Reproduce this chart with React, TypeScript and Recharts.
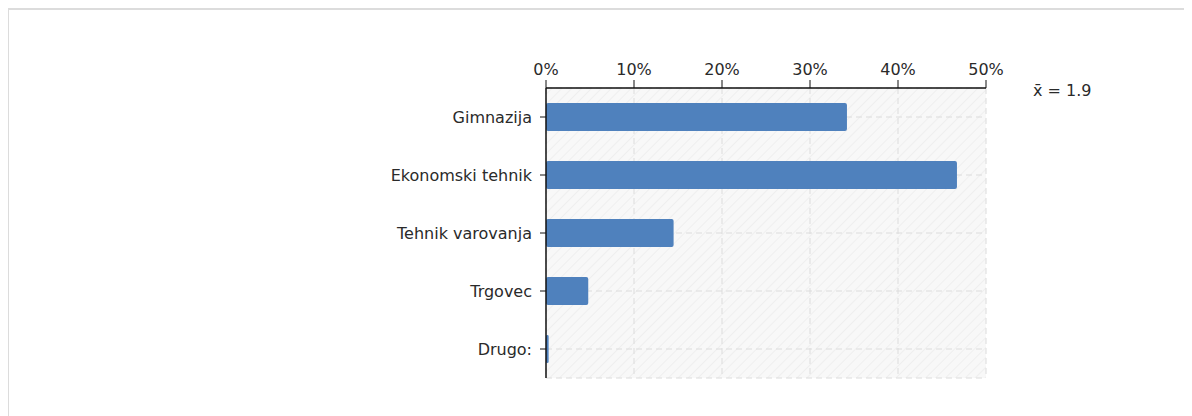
import React from "react";
import { BarChart, Bar, XAxis, YAxis, CartesianGrid } from "recharts";

// Survey answers (share of respondents, %)
const categories = ["Gimnazija", "Ekonomski tehnik", "Tehnik varovanja", "Trgovec", "Drugo:"];
const shares = [34.2, 46.7, 14.5, 4.8, 0.3];
const xTicks = [0, 10, 20, 30, 40, 50];
const meanLabel = "x\u0304 = 1.9";

const FONT = "'DejaVu Sans', Verdana, sans-serif";
const TEXT = "#2a2a2a";

export default function App() {
  const chartData = categories.map((name, i) => ({ name, value: shares[i] }));

  return (
    <div style={{ position: "relative", width: 1184, height: 408, fontFamily: FONT }}>
      {/* outer frame, only top and left edges are visible in the window */}
      <div
        style={{
          position: "absolute",
          left: -1,
          top: 0,
          width: 1300,
          height: 500,
          borderTop: "2px solid #dcdcdc",
          borderLeft: "2px solid #dcdcdc",
          boxSizing: "border-box",
        }}
      />
      <BarChart
        width={1184}
        height={400}
        data={chartData}
        layout="vertical"
        margin={{ top: 50, right: 206, left: 338, bottom: 30 }}
        barCategoryGap={15}
      >
        <defs>
          <pattern id="hatch" width="7" height="7" patternUnits="userSpaceOnUse" patternTransform="rotate(45)">
            <rect width="7" height="7" fill="#f8f8f8" />
            <line x1="0" y1="0" x2="0" y2="7" stroke="#ececec" strokeWidth="1.5" />
          </pattern>
        </defs>
        <CartesianGrid stroke="#dcdcdc" strokeDasharray="6 4" fill="url(#hatch)" fillOpacity={1} />
        <XAxis
          type="number"
          orientation="top"
          domain={[0, 50]}
          ticks={xTicks}
          interval={0}
          height={30}
          tickFormatter={(v: number) => `${v}%`}
          axisLine={{ stroke: "#111", strokeWidth: 1.5 }}
          tickLine={{ stroke: "#111" }}
          tickSize={8}
          tickMargin={5}
          tick={{ fill: TEXT, fontSize: 16, fontFamily: FONT }}
        />
        <XAxis
          xAxisId="bottom"
          type="number"
          orientation="bottom"
          domain={[0, 50]}
          height={0}
          tick={false}
          tickLine={false}
          axisLine={{ stroke: "#dcdcdc", strokeDasharray: "6 4" }}
        />
        <YAxis
          type="category"
          dataKey="name"
          width={200}
          interval={0}
          axisLine={{ stroke: "#111", strokeWidth: 1.5 }}
          tickLine={{ stroke: "#111" }}
          tickSize={6}
          tickMargin={8}
          tick={{ fill: TEXT, fontSize: 16, fontFamily: FONT }}
        />
        <Bar dataKey="value" fill="#4f81bd" barSize={28} radius={2} isAnimationActive={false} />
      </BarChart>
      <div
        style={{
          position: "absolute",
          left: 1025,
          top: 73,
          fontSize: 16,
          color: TEXT,
          whiteSpace: "nowrap",
        }}
      >
        {meanLabel}
      </div>
    </div>
  );
}
